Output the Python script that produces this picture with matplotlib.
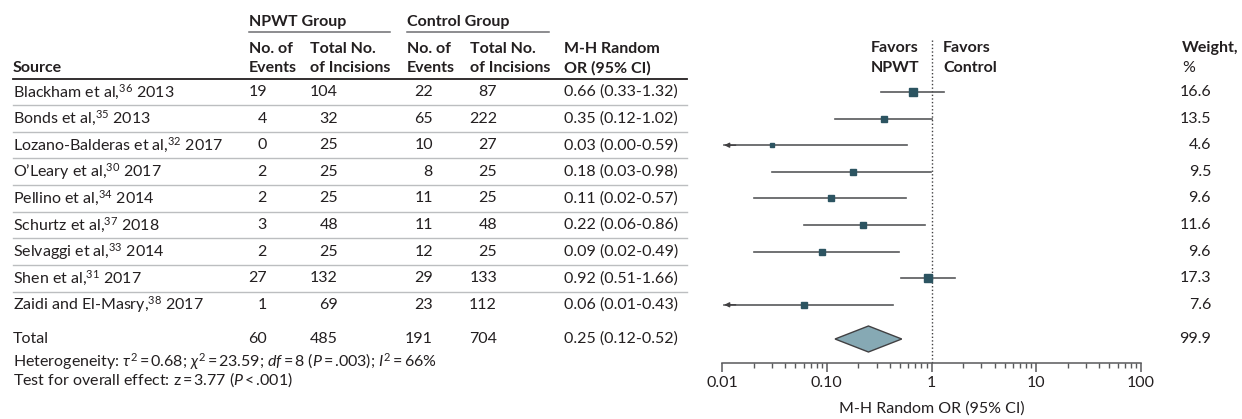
"""
Forest plot: surgical site infection, NPWT vs control (M-H random effects OR).
Writes out.png (1242 x 419 px).
"""

import numpy as np
import matplotlib
matplotlib.use("Agg")
import matplotlib.pyplot as plt
from matplotlib.ticker import FixedLocator, FixedFormatter, LogLocator, NullFormatter

# ---- data ----
studies = ["Blackham et al,", "Bonds et al,", "Lozano-Balderas et al,", "O\u2019Leary et al,",
           "Pellino et al,", "Schurtz et al,", "Selvaggi et al,", "Shen et al,",
           "Zaidi and El-Masry,"]
refs = [36, 35, 32, 30, 34, 37, 33, 31, 38]
years = [2013, 2013, 2017, 2017, 2014, 2018, 2014, 2017, 2017]
npwt_events = [19, 4, 0, 2, 2, 3, 2, 27, 1]
npwt_total = [104, 32, 25, 25, 25, 48, 25, 132, 69]
ctrl_events = [22, 65, 10, 8, 11, 11, 12, 29, 23]
ctrl_total = [87, 222, 27, 25, 25, 48, 25, 133, 112]
odds_ratio = [0.66, 0.35, 0.03, 0.18, 0.11, 0.22, 0.09, 0.92, 0.06]
ci_low = [0.33, 0.12, 0.00, 0.03, 0.02, 0.06, 0.02, 0.51, 0.01]
ci_high = [1.32, 1.02, 0.59, 0.98, 0.57, 0.86, 0.49, 1.66, 0.43]
weights = [16.6, 13.5, 4.6, 9.5, 9.6, 11.6, 9.6, 17.3, 7.6]

total_counts = [60, 485, 191, 704]
total_or, total_lo, total_hi = 0.25, 0.12, 0.52
total_weight = 99.9

tick_values = [0.01, 0.1, 1, 10, 100]
tick_labels = ["0.01", "0.10", "1", "10", "100"]

T = "\u2009"  # thin space around "=" and "<"
heterogeneity = (rf"Heterogeneity: $\tau^2${T}={T}0.68; $\chi^2${T}={T}23.59; $df${T}={T}8 "
                 rf"($P${T}={T}.003); $I^2${T}={T}66%")
overall = rf"Test for overall effect: z{T}={T}3.77 ($P${T}<{T}.001)"

FONT = ["Lato", "DejaVu Sans"]
TXT = "#231f20"
MARK = "#2c5461"
DIAMOND = "#86a9b4"


def main():
    plt.rcParams["font.family"] = FONT
    plt.rcParams["mathtext.fontset"] = "custom"
    plt.rcParams["mathtext.rm"] = FONT[0]
    plt.rcParams["mathtext.it"] = FONT[0] + ":italic"
    plt.rcParams["mathtext.bf"] = FONT[0] + ":bold"

    W, H = 1242, 419
    fig = plt.figure(figsize=(W / 100, H / 100), dpi=100)

    # table canvas in pixel units
    ax = fig.add_axes([0, 0, 1, 1])
    ax.set_xlim(0, W); ax.set_ylim(H, 0); ax.axis("off")

    fs = 11.5
    row0, pitch = 92, 26.6
    rows = [row0 + i * pitch for i in range(len(studies))]
    y_total = 339

    # ---- headers ----
    hd = dict(fontsize=fs, fontweight="bold", color=TXT, va="center")
    ax.text(249, 22, "NPWT Group", ha="left", **hd)
    ax.text(407, 22, "Control Group", ha="left", **hd)
    ax.plot([249, 390], [32, 32], color="#6d6e71", lw=1.1)
    ax.plot([407, 549], [32, 32], color="#6d6e71", lw=1.1)
    for x in (249, 407):
        ax.text(x, 49, "No. of", ha="left", **hd)
        ax.text(x, 68, "Events", ha="left", **hd)
    for x in (310, 470):
        ax.text(x, 49, "Total No.", ha="left", **hd)
        ax.text(x, 68, "of Incisions", ha="left", **hd)
    ax.text(13, 68, "Source", ha="left", **hd)
    ax.text(564, 49, "M-H Random", ha="left", **hd)
    ax.text(564, 68, "OR (95% CI)", ha="left", **hd)
    ax.text(919, 48, "Favors", ha="right", **hd)
    ax.text(919, 68, "NPWT", ha="right", **hd)
    ax.text(943, 48, "Favors", ha="left", **hd)
    ax.text(943, 68, "Control", ha="left", **hd)
    ax.text(1182, 48, "Weight,", ha="left", **hd)
    ax.text(1182, 68, "%", ha="left", fontsize=fs, color=TXT, va="center")
    ax.plot([13, 687], [79, 79], color="#231f20", lw=1.3)

    # ---- study rows ----
    tx = dict(fontsize=fs, color=TXT, va="center")
    for i, y in enumerate(rows):
        ax.text(13, y, f"{studies[i]}$^{{{refs[i]}}}$ {years[i]}", ha="left", **tx)
        ax.text(267, y, str(npwt_events[i]), ha="right", **tx)
        ax.text(338, y, str(npwt_total[i]), ha="right", **tx)
        ax.text(433, y, str(ctrl_events[i]), ha="right", **tx)
        ax.text(497, y, str(ctrl_total[i]), ha="right", **tx)
        ax.text(564, y, f"{odds_ratio[i]:.2f} ({ci_low[i]:.2f}-{ci_high[i]:.2f})", ha="left", **tx)
        ax.text(1211, y, f"{weights[i]:.1f}", ha="right", **tx)
        if i < len(rows) - 1:
            ax.plot([13, 687], [y + pitch / 2] * 2, color="#bcbec0", lw=1.0)

    ax.text(13, y_total, "Total", ha="left", **tx)
    for x, v in zip((267, 338, 433, 497), total_counts):
        ax.text(x, y_total, str(v), ha="right", **tx)
    ax.text(564, y_total, f"{total_or:.2f} ({total_lo:.2f}-{total_hi:.2f})", ha="left", **tx)
    ax.text(1211, y_total, f"{total_weight:.1f}", ha="right", **tx)

    ax.text(13, 367, heterogeneity, ha="left", va="baseline", fontsize=fs, color=TXT)
    ax.text(13, 385, overall, ha="left", va="baseline", fontsize=fs, color=TXT)

    # ---- forest panel ----
    x0, x1, ytop, yax = 722, 1141, 40, 363
    fx = fig.add_axes([x0 / W, 1 - yax / H, (x1 - x0) / W, (yax - ytop) / H])
    fx.patch.set_alpha(0)
    fx.set_xscale("log")
    fx.set_xlim(0.01, 100)
    fx.set_ylim(yax, ytop)
    for s in ("top", "left", "right"):
        fx.spines[s].set_visible(False)
    fx.spines["bottom"].set_color("#58595b")
    fx.spines["bottom"].set_linewidth(1.1)
    fx.set_yticks([])
    fx.xaxis.set_major_locator(FixedLocator(tick_values))
    fx.xaxis.set_major_formatter(FixedFormatter(tick_labels))
    fx.xaxis.set_minor_locator(LogLocator(base=10, subs=np.arange(2, 10)))
    fx.xaxis.set_minor_formatter(NullFormatter())
    fx.tick_params(axis="x", which="major", length=6.5, width=1.1, color="#58595b",
                   pad=3, labelsize=fs, labelcolor=TXT)
    fx.tick_params(axis="x", which="minor", length=3.8, width=1.0, color="#58595b")
    fx.set_xlabel("M-H Random OR (95% CI)", fontsize=fs, color=TXT, labelpad=8)

    fx.vlines(1, ytop, yax, colors="#414042", linestyles=(0, (1, 1.6)), lw=1.0, zorder=1)

    for i, y in enumerate(rows):
        lo = max(ci_low[i], 0.0105)
        fx.plot([lo, ci_high[i]], [y, y], color="#58595b", lw=1.2, zorder=2)
        if ci_low[i] <= 0.01:
            fx.annotate("", xy=(0.0105, y), xytext=(0.0135, y),
                        arrowprops=dict(arrowstyle="-|>", color="#414042", lw=1.0,
                                        mutation_scale=7, shrinkA=0, shrinkB=0))
        side = 1.85 * np.sqrt(weights[i]) * 0.72
        fx.plot(odds_ratio[i], y, marker="s", ms=side, color=MARK, mec=MARK, zorder=3)

    half = 13
    dx = [total_lo, total_or, total_hi, total_or]
    dy = [y_total, y_total - half, y_total, y_total + half]
    fx.fill(dx, dy, facecolor=DIAMOND, edgecolor="#414042", lw=1.0, zorder=3)

    fig.savefig("out.png", dpi=100)


if __name__ == "__main__":
    main()
